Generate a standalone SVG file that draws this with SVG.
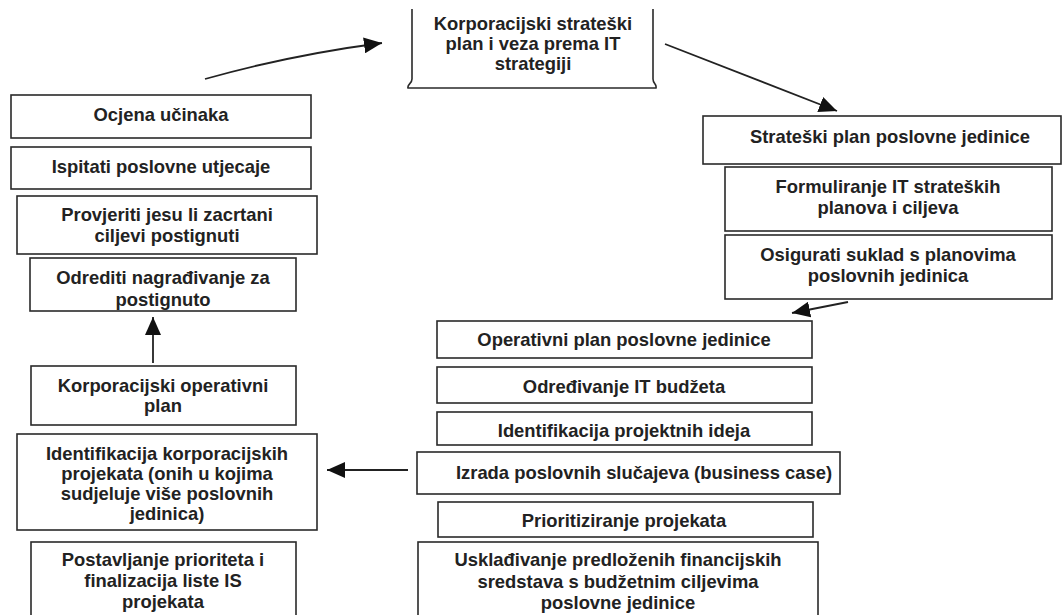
<svg xmlns="http://www.w3.org/2000/svg" width="1062" height="615" viewBox="0 0 1062 615">
<defs>
<style>
.b{fill:#fff;stroke:#2a2a2a;stroke-width:1.6}
.t{font-family:"Liberation Sans",Arial,sans-serif;font-weight:bold;font-size:18.4px;fill:#222;text-anchor:middle;dominant-baseline:central}
.c{fill:none;stroke:#222;stroke-width:1.8}
</style>
<marker id="ah" markerUnits="userSpaceOnUse" markerWidth="20" markerHeight="16" refX="18" refY="8" orient="auto">
<path d="M0,0 L18,8 L0,16 Z" fill="#111"/>
</marker>
</defs>
<rect width="1062" height="615" fill="#fff"/>

<g id="connectors">
<path class="c" d="M205,79 Q290,55 382,43" marker-end="url(#ah)"/>
<path class="c" d="M665,44 L837,111" marker-end="url(#ah)"/>
<path class="c" d="M848,302 L792,313" marker-end="url(#ah)"/>
<path class="c" d="M408,470 L327,470" marker-end="url(#ah)"/>
<path class="c" d="M153,363 L153,317" marker-end="url(#ah)"/>
</g>

<g id="n-korp-strat">
<path class="b" d="M412,9 V79 C412,84 407,84 408,88 L656,88 C657,84 653,84 653,79 V9"/>
<text class="t" x="533" y="23">Korporacijski strateški</text>
<text class="t" x="533" y="43">plan i veza prema IT</text>
<text class="t" x="533" y="63">strategiji</text>
</g>

<g id="n-ocjena">
<rect class="b" x="11" y="95" width="300" height="43"/>
<text class="t" x="161" y="114">Ocjena učinaka</text>
</g>
<g id="n-ispitati">
<rect class="b" x="11" y="147" width="300" height="42"/>
<text class="t" x="161" y="166">Ispitati poslovne utjecaje</text>
</g>
<g id="n-provjeriti">
<rect class="b" x="17" y="196" width="300" height="58"/>
<text class="t" x="167" y="214">Provjeriti jesu li zacrtani</text>
<text class="t" x="167" y="235">ciljevi postignuti</text>
</g>
<g id="n-odrediti">
<rect class="b" x="30" y="258" width="266" height="53"/>
<text class="t" x="163" y="277">Odrediti nagrađivanje za</text>
<text class="t" x="163" y="299">postignuto</text>
</g>
<g id="n-korp-oper">
<rect class="b" x="31" y="366" width="265" height="59"/>
<text class="t" x="163" y="385">Korporacijski operativni</text>
<text class="t" x="163" y="405">plan</text>
</g>
<g id="n-ident-korp">
<rect class="b" x="17" y="434" width="300" height="96"/>
<text class="t" x="167" y="453">Identifikacija korporacijskih</text>
<text class="t" x="167" y="473">projekata (onih u kojima</text>
<text class="t" x="167" y="493">sudjeluje više poslovnih</text>
<text class="t" x="167" y="513">jedinica)</text>
</g>
<g id="n-postavljanje">
<rect class="b" x="31" y="542" width="265" height="80"/>
<text class="t" x="163" y="559">Postavljanje prioriteta i</text>
<text class="t" x="163" y="580">finalizacija liste IS</text>
<text class="t" x="163" y="601">projekata</text>
</g>

<g id="n-strat-pj">
<rect class="b" x="703" y="116" width="358" height="48"/>
<text class="t" x="890" y="136">Strateški plan poslovne jedinice</text>
</g>
<g id="n-formuliranje">
<rect class="b" x="725" y="167" width="327" height="64"/>
<text class="t" x="888" y="186">Formuliranje IT strateških</text>
<text class="t" x="888" y="207">planova i ciljeva</text>
</g>
<g id="n-osigurati">
<rect class="b" x="725" y="235" width="327" height="64"/>
<text class="t" x="888" y="254">Osigurati suklad s planovima</text>
<text class="t" x="888" y="275">poslovnih jedinica</text>
</g>

<g id="n-oper-pj">
<rect class="b" x="437" y="321" width="375" height="37"/>
<text class="t" x="624" y="339">Operativni plan poslovne jedinice</text>
</g>
<g id="n-budzet">
<rect class="b" x="437" y="367" width="375" height="36"/>
<text class="t" x="624" y="386">Određivanje IT budžeta</text>
</g>
<g id="n-ideje">
<rect class="b" x="437" y="412" width="375" height="33"/>
<text class="t" x="624" y="430">Identifikacija projektnih ideja</text>
</g>
<g id="n-izrada">
<rect class="b" x="417" y="452" width="423" height="42"/>
<text class="t" x="644" y="472">Izrada poslovnih slučajeva (business case)</text>
</g>
<g id="n-prior">
<rect class="b" x="438" y="502" width="375" height="35"/>
<text class="t" x="624" y="520">Prioritiziranje projekata</text>
</g>
<g id="n-uskladivanje">
<rect class="b" x="418" y="542" width="400" height="80"/>
<text class="t" x="618" y="559">Usklađivanje predloženih financijskih</text>
<text class="t" x="618" y="581">sredstava s budžetnim ciljevima</text>
<text class="t" x="618" y="602">poslovne jedinice</text>
</g>
</svg>
